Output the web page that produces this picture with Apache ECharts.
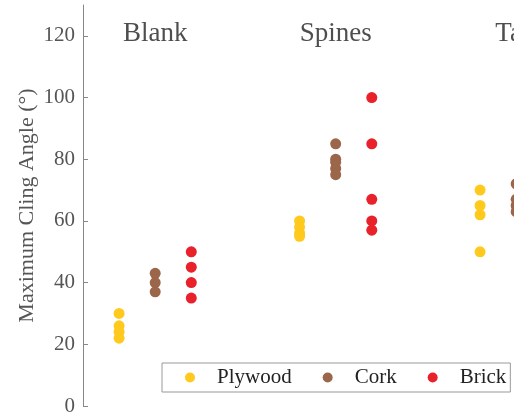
<!DOCTYPE html>
<html>
<head>
<meta charset="utf-8">
<script src="https://cdn.jsdelivr.net/npm/echarts@6/dist/echarts.min.js"></script>
<style>html,body{margin:0;padding:0;background:#fff}#c{width:514px;height:417px}</style>
</head>
<body>
<div id="c"></div>
<script>
// Group (condition) names and material names
var groups = ['Blank', 'Spines', 'Tail'];
var materials = ['Plywood', 'Cork', 'Brick'];
// Maximum cling angle (deg) per group, per material
var plywood = [[30, 26, 24, 22], [60, 58, 56, 55], [70, 65, 62, 50]];
var cork = [[43, 40, 37], [85, 80, 79, 77, 75], [72, 67, 65, 63]];
var brick = [[50, 45, 40, 35], [100, 85, 67, 60, 57], []];
var yTicks = [0, 20, 40, 60, 80, 100, 120];

var colors = ['#FFC91D', '#9C664A', '#E8212B'];
var seriesValues = [plywood, cork, brick];
var FONT = '"Liberation Serif", "Times New Roman", serif';

function build(mi) {
  var out = [];
  seriesValues[mi].forEach(function (vals, gi) {
    vals.forEach(function (v) { out.push([gi * 5 + mi + 1, v]); });
  });
  return out;
}

var series = materials.map(function (m, mi) {
  return {
    name: m, type: 'scatter', data: build(mi), symbolSize: 11, clip: false,
    itemStyle: { color: colors[mi], opacity: 1 }
  };
});
series.push({
  name: 'groupLabels', type: 'scatter', symbolSize: 0, clip: false, silent: true,
  data: groups.map(function (g, gi) { return { name: g, value: [gi * 5 + 2, 120.6] }; }),
  label: { show: true, position: 'inside', formatter: '{b}', color: '#222', fontFamily: FONT, fontSize: 27 }
});

var chart = echarts.init(document.getElementById('c'), null, { renderer: 'canvas' });
chart.setOption({
  animation: false,
  grid: { left: 83, top: 5, bottom: 11, right: 0, containLabel: false },
  xAxis: { type: 'value', min: 0, max: 11.94, show: false },
  yAxis: {
    type: 'value', min: 0, max: 130, interval: 10,
    name: 'Maximum Cling Angle (°)', nameLocation: 'middle', nameGap: 45, nameMoveOverlap: false,
    nameTextStyle: { fontFamily: FONT, fontSize: 22, color: '#555' },
    axisLine: { show: true, lineStyle: { color: '#888', width: 1 } },
    axisTick: { show: true, inside: true, length: 5, lineStyle: { color: '#888' }, customValues: yTicks },
    axisLabel: { fontFamily: FONT, fontSize: 21, color: '#555', margin: 8, customValues: yTicks },
    splitLine: { show: false }
  },
  legend: {
    data: materials, left: 162, top: 363, orient: 'horizontal',
    icon: 'circle', itemWidth: 10, itemHeight: 10, itemGap: 31,
    padding: [4, 4, 4, 23], borderColor: '#999', borderWidth: 1,
    formatter: function (n) { return '{s|}{t|' + n + '}'; },
    textStyle: {
      fontFamily: FONT, fontSize: 21, color: '#222',
      rich: { s: { width: 17 }, t: { fontFamily: FONT, fontSize: 21, color: '#222' } }
    }
  },
  series: series
});
</script>
</body>
</html>
